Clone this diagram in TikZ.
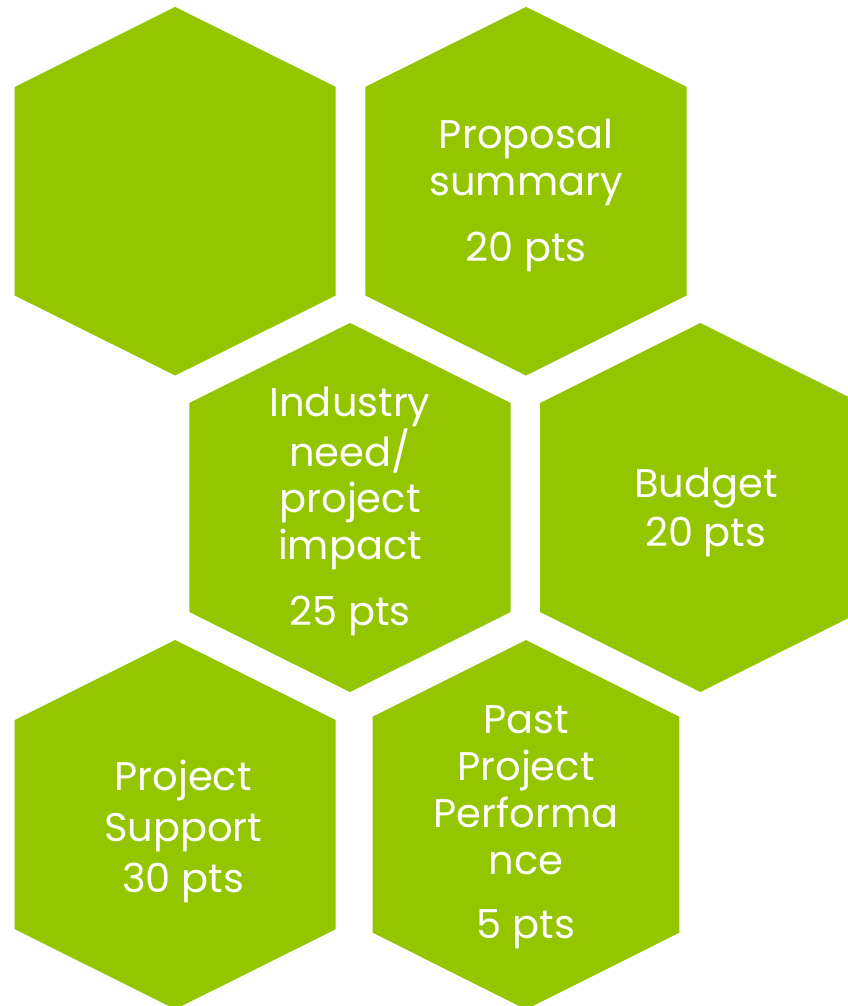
\documentclass[tikz,border=0pt]{standalone}
\usepackage{fontspec}
\setmainfont{Poppins}
\usepackage{tikz}
\usetikzlibrary{positioning}
\definecolor{hexgreen}{RGB}{148,198,0}
\tikzset{
    cell/.style={fill=hexgreen, draw=none},
    lbl/.style={text=white, align=center, inner sep=0pt,
        font=\fontsize{30}{35.2}\selectfont},
}
% half-width, height of the point, half of the upright side
\newcommand{\hexcell}[3]{%
    \fill[cell] (0,-#2-#3) -- (#1,-#3) -- (#1,#3) -- (0,#2+#3)
        -- (-#1,#3) -- (-#1,-#3) -- cycle;}

\begin{document}
\begin{tikzpicture}[x=0.75pt, y=-0.75pt]
    \useasboundingbox (0,0) rectangle (848,1006);
    \clip (0,0) rectangle (848,1006);
\begin{scope}[shift={(175.2,191.2)}]
    \hexcell{160.5}{80}{104.3}
\end{scope}
\begin{scope}[shift={(526,191.2)}]
    \hexcell{160.7}{80}{104.3}
    \node[lbl] (summary) at (0,4) {Proposal\\summary\\[14pt]20 pts};
\end{scope}
\begin{scope}[shift={(350,507.5)}]
    \hexcell{160.7}{80}{104.5}
    \node[lbl] (impact) at (0,4) {Industry\\need/\\project\\impact\\[14pt]25 pts};
\end{scope}
\begin{scope}[shift={(700.3,507.5)}]
    \hexcell{160.3}{80}{104.5}
    \node[lbl] (budget) at (5.5,5) {Budget\\[2pt]20 pts};
\end{scope}
\begin{scope}[shift={(175.2,824.6)}]
    \hexcell{160.5}{80}{104.6}
    \node[lbl] (support) at (8,7) {Project\\[3pt]Support\\[3pt]30 pts};
\end{scope}
\begin{scope}[shift={(526,824.7)}]
    \hexcell{153.3}{76.7}{108}
    \node[lbl] (past) at (0,3) {Past\\Project\\Performa\\nce\\[13pt]5 pts};
\end{scope}
\end{tikzpicture}
\end{document}
